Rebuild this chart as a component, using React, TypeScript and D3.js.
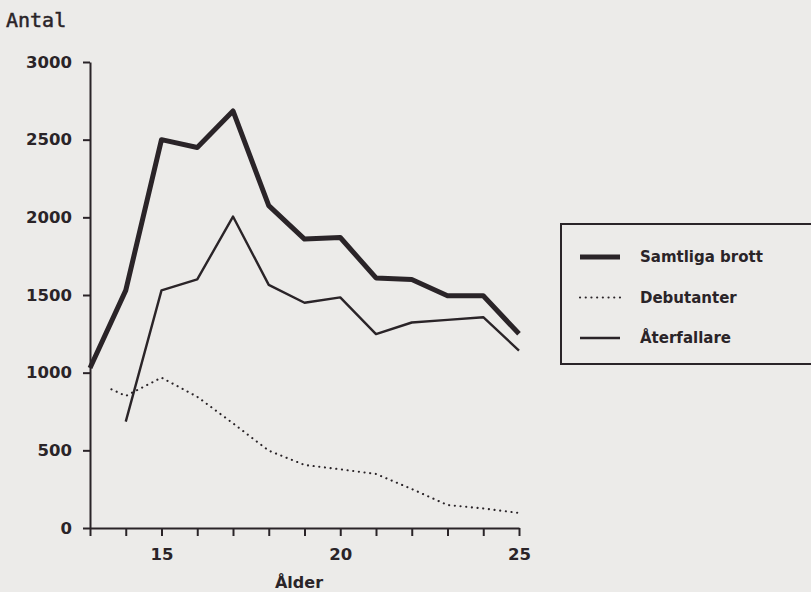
import React from 'react';
import * as d3 from 'd3';

// values
const ages = [13, 14, 15, 16, 17, 18, 19, 20, 21, 22, 23, 24, 25];
const samtliga = [1030, 1530, 2500, 2450, 2685, 2075, 1860, 1870, 1610, 1600, 1495, 1495, 1250];

const aterAges = [14, 15, 16, 17, 18, 19, 20, 21, 22, 23, 24, 25];
const aterfallare = [685, 1530, 1600, 2005, 1565, 1450, 1485, 1248, 1323, 1340, 1357, 1142];

const debAges = [13.6, 14, 15, 16, 17, 18, 19, 20, 21, 22, 23, 24, 25];
const debutanter = [893, 850, 968, 845, 674, 498, 406, 378, 348, 251, 148, 126, 97];

const yTicks = [0, 500, 1000, 1500, 2000, 2500, 3000];
const xLabels = [15, 20, 25];

const legendItems = [
  { label: 'Samtliga brott', kind: 'thick' },
  { label: 'Debutanter', kind: 'dotted' },
  { label: 'Återfallare', kind: 'thin' },
];

const INK = '#2a2428';
const PAPER = '#ecebe9';

const styleFor = (sel: d3.Selection<any, any, any, any>, kind: string) => {
  if (kind === 'thick') {
    sel.attr('stroke-width', 5);
  } else if (kind === 'thin') {
    sel.attr('stroke-width', 2.4);
  } else {
    sel.attr('stroke-width', 2.1)
      .attr('stroke-dasharray', '0.1 5.6')
      .attr('stroke-linecap', 'round');
  }
  return sel;
};

const App: React.FC = () => {
  const svgRef = React.useRef<SVGSVGElement>(null);

  React.useEffect(() => {
    if (!svgRef.current) return;
    document.body.style.margin = '0';
    document.body.style.background = PAPER;

    const svg = d3.select(svgRef.current);
    svg.selectAll('*').remove();

    svg.append('rect')
      .attr('width', 811)
      .attr('height', 592)
      .attr('fill', PAPER);

    const x = d3.scaleLinear().domain([13, 25]).range([90, 519]);
    const y = d3.scaleLinear().domain([0, 3000]).range([528, 62]);

    const tickFont = (sel: d3.Selection<any, any, any, any>) =>
      sel.attr('fill', INK)
        .style('font-family', '"DejaVu Sans", sans-serif')
        .style('font-weight', 'bold')
        .style('font-size', '16.5px');

    // Y axis
    const yAxis = svg.append('g')
      .attr('transform', `translate(${x(13)},0)`)
      .call(d3.axisLeft(y)
        .tickValues(yTicks)
        .tickFormat(d3.format('d'))
        .tickSize(7)
        .tickSizeOuter(0)
        .tickPadding(11));
    yAxis.select('.domain').attr('stroke', INK).attr('stroke-width', 2);
    yAxis.selectAll('.tick line').attr('stroke', INK).attr('stroke-width', 2);
    tickFont(yAxis.selectAll('.tick text'));

    // X axis
    const xAxis = svg.append('g')
      .attr('transform', `translate(0,${y(0)})`)
      .call(d3.axisBottom(x)
        .tickValues(ages)
        .tickSize(8)
        .tickSizeOuter(0)
        .tickPadding(12)
        .tickFormat(d => (xLabels.includes(+d) ? String(d) : '')));
    xAxis.select('.domain').attr('stroke', INK).attr('stroke-width', 2);
    xAxis.selectAll('.tick line').attr('stroke', INK).attr('stroke-width', 2);
    tickFont(xAxis.selectAll('.tick text'));

    // Series
    const line = d3.line<[number, number]>()
      .x(d => x(d[0]))
      .y(d => y(d[1]));

    const series = [
      { kind: 'thick', pts: ages.map((a, i) => [a, samtliga[i]] as [number, number]) },
      { kind: 'thin', pts: aterAges.map((a, i) => [a, aterfallare[i]] as [number, number]) },
      { kind: 'dotted', pts: debAges.map((a, i) => [a, debutanter[i]] as [number, number]) },
    ];

    series.forEach(s => {
      const p = svg.append('path')
        .datum(s.pts)
        .attr('d', line)
        .attr('fill', 'none')
        .attr('stroke', INK)
        .attr('stroke-linejoin', 'round');
      styleFor(p, s.kind);
    });

    // Axis titles
    svg.append('text')
      .attr('x', 6)
      .attr('y', 27)
      .attr('fill', INK)
      .attr('stroke', INK)
      .attr('stroke-width', 0.5)
      .style('font-family', '"DejaVu Sans Mono", monospace')
      .style('font-size', '20px')
      .text('Antal');

    svg.append('text')
      .attr('x', 299)
      .attr('y', 588)
      .attr('text-anchor', 'middle')
      .attr('fill', INK)
      .style('font-family', '"DejaVu Sans", sans-serif')
      .style('font-weight', 'bold')
      .style('font-size', '16px')
      .text('Ålder');

    // Legend
    const lg = svg.append('g');
    lg.append('rect')
      .attr('x', 561)
      .attr('y', 224)
      .attr('width', 270)
      .attr('height', 140)
      .attr('fill', 'none')
      .attr('stroke', INK)
      .attr('stroke-width', 2);

    const rowY = d3.scalePoint<string>()
      .domain(legendItems.map(d => d.label))
      .range([257, 338]);

    legendItems.forEach(item => {
      const yy = rowY(item.label)!;
      const l = lg.append('line')
        .attr('x1', 580)
        .attr('x2', 620)
        .attr('y1', yy)
        .attr('y2', yy)
        .attr('stroke', INK);
      styleFor(l, item.kind);
      lg.append('text')
        .attr('x', 640)
        .attr('y', yy)
        .attr('dy', '0.36em')
        .attr('fill', INK)
        .style('font-family', '"DejaVu Sans", sans-serif')
        .style('font-weight', 'bold')
        .style('font-size', '15px')
        .text(item.label);
    });
  }, []);

  return (
    <svg ref={svgRef} width={811} height={592} viewBox="0 0 811 592"
      style={{ position: 'absolute', left: 0, top: 0, display: 'block' }} />
  );
};

export default App;
